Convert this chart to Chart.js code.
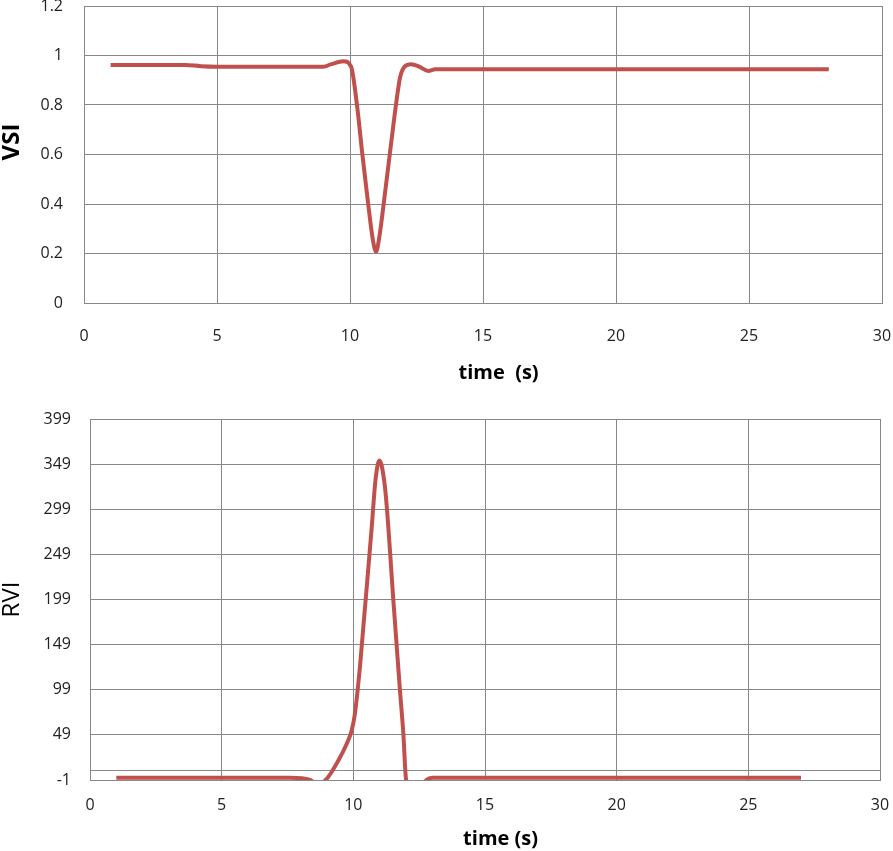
<!DOCTYPE html>
<html>
<head>
<meta charset="utf-8">
<script src="https://cdn.jsdelivr.net/npm/chart.js@4"></script>
<style>
  html, body { margin: 0; padding: 0; background: #fff; overflow: hidden; }
  body { width: 893px; height: 851px; position: relative; }
  canvas { position: absolute; left: 0; }
  #c1 { top: 0px; }
  #c2 { top: 405px; }
</style>
</head>
<body>
<canvas id="c1" width="893" height="395"></canvas>
<canvas id="c2" width="893" height="446"></canvas>
<script>
// ---- data ----
const xTicks = [0, 5, 10, 15, 20, 25, 30];
const vsiTicks = [0, 0.2, 0.4, 0.6, 0.8, 1, 1.2];
const rviTicks = [-1, 49, 99, 149, 199, 249, 299, 349, 399];
const rviExtraGrid = 9;

const vsiTime = [1, 2, 3, 3.8, 4.4, 5, 6, 7, 8, 9, 9.3, 9.75, 10.04, 10.27, 10.46, 10.68, 10.86, 10.98, 11.1, 11.3, 11.54, 11.74, 11.88, 12.05, 12.3, 12.6, 12.95, 13.2, 15, 18, 21, 24, 28];
const vsiValue = [0.962, 0.962, 0.962, 0.962, 0.957, 0.955, 0.955, 0.955, 0.955, 0.955, 0.965, 0.977, 0.955, 0.793, 0.605, 0.403, 0.255, 0.207, 0.265, 0.43, 0.64, 0.81, 0.91, 0.955, 0.965, 0.955, 0.937, 0.944, 0.944, 0.944, 0.944, 0.944, 0.944];

const rviTime = [1, 3, 5, 7, 7.6, 8.36, 8.65, 8.99, 9.43, 9.75, 9.94, 10.06, 10.15, 10.25, 10.38, 10.53, 10.7, 10.84, 10.99, 11.17, 11.27, 11.52, 11.77, 11.9, 12.0, 12.35, 12.78, 13, 16, 20, 24, 27];
const rviValue = [1.5, 1.5, 1.5, 1.5, 1.5, -1, -6, 0.3, 20.6, 39.2, 54, 72.5, 94.7, 124, 168.6, 220, 279.6, 331, 353, 331, 302, 198, 98.6, 50, 0.3, -20, -1, 1.5, 1.5, 1.5, 1.5, 1.5];

const RED = '#C0504D';
const GRID = '#888888';
const FONT = "'Open Sans', 'Liberation Sans', sans-serif";
const NB = '\u00A0';

function pts(xs, ys) { return xs.map((x, i) => ({ x: x, y: ys[i] })); }
function noPad(s) { s.paddingTop = 0; s.paddingBottom = 0; s.paddingLeft = 0; s.paddingRight = 0; }

function makeChart(id, cfg) {
  return new Chart(document.getElementById(id), {
    type: 'line',
    data: {
      datasets: [{
        data: pts(cfg.xs, cfg.ys),
        borderColor: RED,
        backgroundColor: RED,
        borderWidth: 4,
        pointRadius: 0,
        cubicInterpolationMode: 'monotone',
        fill: false,
        clip: { left: 5, right: 5, top: 5, bottom: 0 }
      }]
    },
    options: {
      responsive: false,
      animation: false,
      devicePixelRatio: 1,
      layout: { padding: cfg.padding },
      plugins: { legend: { display: false }, tooltip: { enabled: false } },
      scales: {
        x: {
          type: 'linear',
          min: 0, max: 30,
          afterBuildTicks: (s) => { s.ticks = xTicks.map(v => ({ value: v })); },
          afterFit: (s) => { s.height = cfg.xHeight; noPad(s); },
          grid: { color: GRID, lineWidth: 1, drawTicks: false },
          border: { color: GRID, width: 1 },
          ticks: {
            padding: cfg.xTickPad,
            color: '#222',
            font: { family: FONT, size: 16 },
            maxRotation: 0,
            autoSkip: false
          },
          title: {
            display: true,
            text: cfg.xTitle,
            color: '#000',
            font: { family: FONT, size: 20, weight: 'bold' },
            padding: { top: 0, bottom: cfg.xTitlePad }
          }
        },
        y: {
          type: 'linear',
          min: cfg.yMin, max: cfg.yMax,
          afterBuildTicks: (s) => { s.ticks = cfg.yTicks.map(v => ({ value: v })); },
          afterFit: (s) => { s.width = cfg.yWidth; noPad(s); },
          grid: { color: GRID, lineWidth: 1, drawTicks: false },
          border: { color: GRID, width: 1 },
          ticks: {
            padding: cfg.yTickPad,
            color: '#222',
            font: { family: FONT, size: 16 },
            autoSkip: false,
            callback: (v) => cfg.yLabel(v)
          },
          title: {
            display: true,
            text: cfg.yTitle,
            color: '#000',
            font: { family: FONT, size: 24, weight: cfg.yTitleWeight, lineHeight: 1 },
            padding: { top: 0, bottom: 0 }
          }
        }
      }
    }
  });
}

makeChart('c1', {
  xs: vsiTime, ys: vsiValue,
  padding: { top: 6, right: 11, left: 0, bottom: 0 },
  xHeight: 92, xTickPad: 24, xTitlePad: 10,
  xTitle: NB.repeat(6) + 'time' + NB + NB + '(s)',
  yMin: 0, yMax: 1.2, yTicks: vsiTicks, yWidth: 84, yTickPad: 21,
  yLabel: (v) => String(Math.round(v * 10) / 10),
  yTitle: NB.repeat(4) + 'VSI', yTitleWeight: 'bold'
});

makeChart('c2', {
  xs: rviTime, ys: rviValue,
  padding: { top: 14, right: 13, left: 0, bottom: 0 },
  xHeight: 71, xTickPad: 16, xTitlePad: 0,
  xTitle: NB.repeat(6) + 'time (s)',
  yMin: -1, yMax: 399, yTicks: rviTicks.concat([rviExtraGrid]), yWidth: 90, yTickPad: 19,
  yLabel: (v) => (rviTicks.indexOf(v) >= 0 ? String(v) : ''),
  yTitle: 'RVI', yTitleWeight: 'normal'
});
</script>
</body>
</html>
